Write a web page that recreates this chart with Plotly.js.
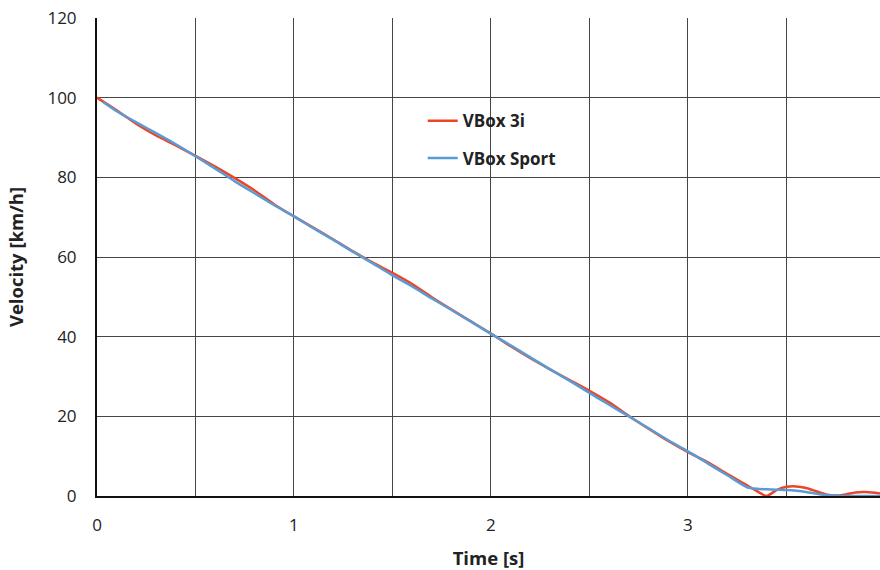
<!DOCTYPE html>
<html>
<head>
<meta charset="utf-8">
<script src="https://cdn.plot.ly/plotly-3.0.1.min.js"></script>
<style>html,body{margin:0;padding:0;background:#fff;}#chart{width:880px;height:570px;}</style>
</head>
<body>
<div id="chart"></div>
<script>
var timeRed = [0, 0.1, 0.2, 0.3, 0.4, 0.5, 0.6, 0.7, 0.8, 0.9, 1.0, 1.1, 1.2, 1.3, 1.4, 1.5, 1.6, 1.7, 1.8, 1.9, 2.0, 2.1, 2.2, 2.3, 2.4, 2.5, 2.6, 2.7, 2.8, 2.9, 3.0, 3.1, 3.2, 3.3, 3.35, 3.4, 3.45, 3.5, 3.55, 3.6, 3.65, 3.7, 3.75, 3.8, 3.85, 3.9, 3.95, 4.0];
var velRed = [100, 96.8, 93.4, 90.5, 88.0, 85.4, 82.7, 79.8, 76.7, 73.2, 70.2, 67.3, 64.4, 61.4, 58.6, 56.0, 53.2, 49.9, 46.8, 43.8, 40.8, 37.6, 34.6, 31.8, 29.1, 26.4, 23.5, 20.1, 16.9, 13.8, 11.0, 8.5, 5.5, 2.7, 1.2, 0.0, 1.5, 2.3, 2.4, 2.0, 1.2, 0.4, 0.1, 0.4, 0.9, 1.0, 0.8, 0.5];

var timeBlue = [0.03, 0.1, 0.2, 0.3, 0.4, 0.5, 0.6, 0.7, 0.8, 0.9, 1.0, 1.1, 1.2, 1.3, 1.4, 1.5, 1.6, 1.7, 1.8, 1.9, 2.0, 2.1, 2.2, 2.3, 2.4, 2.5, 2.6, 2.7, 2.8, 2.9, 3.0, 3.1, 3.2, 3.3, 3.35, 3.4, 3.45, 3.5, 3.55, 3.6, 3.65, 3.7, 3.75, 3.8, 3.9, 4.0];
var velBlue = [99.0, 96.6, 93.8, 91.1, 88.3, 85.3, 82.2, 79.0, 76.0, 73.0, 70.2, 67.2, 64.3, 61.3, 58.4, 55.4, 52.6, 49.6, 46.7, 43.7, 40.7, 37.8, 34.8, 31.8, 28.9, 25.9, 22.9, 20.0, 17.0, 14.0, 11.2, 8.2, 5.2, 2.2, 1.8, 1.7, 1.6, 1.5, 1.3, 1.0, 0.6, 0.2, 0.1, 0.0, 0.0, 0.0];

var seriesNames = ["VBox 3i", "VBox Sport"];
var xTickVals = [0, 1, 2, 3];
var yTickVals = [0, 20, 40, 60, 80, 100, 120];

var gridCol = "#454545";
var tickFont = {family: "Open Sans, Noto Sans, sans-serif", size: 17, color: "#222"};
var titleFont = {family: "Open Sans, Noto Sans, sans-serif", size: 18.5, color: "#222", weight: "bold"};

var traces = [
  {x: timeRed, y: velRed, name: seriesNames[0], type: "scatter", mode: "lines",
   line: {color: "#EE4526", width: 2.5, shape: "spline", smoothing: 0.6}, legend: "legend"},
  {x: timeBlue, y: velBlue, name: seriesNames[1], type: "scatter", mode: "lines",
   line: {color: "#5B9BD5", width: 2.5, shape: "spline", smoothing: 0.6}, legend: "legend2"}
];

var legendFont = {family: "Open Sans, Noto Sans, sans-serif", size: 17, color: "#222", weight: "bold"};

var layout = {
  width: 880, height: 570,
  margin: {l: 97, r: 0, t: 18, b: 74},
  paper_bgcolor: "#fff", plot_bgcolor: "#fff",
  showlegend: true,
  legend: {x: 0.416, y: 0.784, xanchor: "left", yanchor: "middle", font: legendFont, bgcolor: "rgba(0,0,0,0)", itemwidth: 30},
  legend2: {x: 0.416, y: 0.706, xanchor: "left", yanchor: "middle", font: legendFont, bgcolor: "rgba(0,0,0,0)", itemwidth: 30},
  xaxis: {
    range: [0, 3.975], tickvals: xTickVals, ticks: "", showgrid: true, gridcolor: gridCol, gridwidth: 1,
    minor: {dtick: 0.5, tick0: 0, showgrid: true, gridcolor: gridCol, gridwidth: 1, ticks: ""},
    showline: true, linecolor: "#111", linewidth: 2, zeroline: false,
    tickfont: tickFont, ticklabelstandoff: 13,
    title: {text: "Time [s]", font: titleFont, standoff: 18}
  },
  yaxis: {
    range: [0, 120], tickvals: yTickVals, ticks: "", showgrid: true, gridcolor: gridCol, gridwidth: 1,
    showline: true, linecolor: "#111", linewidth: 2, zeroline: false,
    tickfont: tickFont, ticklabelstandoff: 15,
    title: {text: "Velocity [km/h]", font: titleFont, standoff: 19}
  }
};

Plotly.newPlot("chart", traces, layout, {displayModeBar: false, staticPlot: true});
</script>
</body>
</html>
